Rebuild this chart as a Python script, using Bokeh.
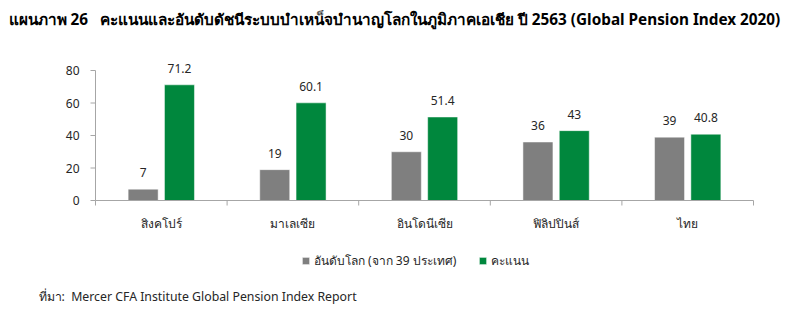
from bokeh.plotting import figure
from bokeh.models import ColumnDataSource, Legend, LegendItem, Label
from bokeh.core.properties import value
from bokeh.embed import file_html
from bokeh.resources import INLINE

categories = ["สิงคโปร์", "มาเลเซีย", "อินโดนีเซีย", "ฟิลิปปินส์", "ไทย"]
rank = [7, 19, 30, 36, 39]
score = [71.2, 60.1, 51.4, 43, 40.8]
rank_name = "อันดับโลก (จาก 39 ประเทศ)"
score_name = "คะแนน"
y_ticks = [0, 20, 40, 60, 80]
title_text = "แผนภาพ 26 \u00a0\u00a0คะแนนและอันดับดัชนีระบบบำเหน็จบำนาญโลกในภูมิภาคเอเชีย ปี 2563 (Global Pension Index 2020)"
source_text = "ที่มา: \u00a0Mercer CFA Institute Global Pension Index Report"

FONT = "Noto Sans"
GREY = "#7F7F7F"
GREEN = "#00873D"
TXT = "#262626"
AX = "#A6A6A6"

W, H = 800, 317
# plot area in pixels (frame covers the whole canvas; axes drawn by hand)
PL, PR, PT, PB = 95, 753, 70, 200
n = len(categories)
ymax = max(y_ticks)
xs = (PR - PL) / n            # px per category
ys = (PB - PT) / ymax         # px per unit
x_range = (-PL / xs, n + (W - PR) / xs)
y_range = (-(H - PB) / ys, ymax + PT / ys)

centers = [i + 0.5 for i in range(n)]
off = 0.138
bw = 0.228

src_r = ColumnDataSource(dict(x=[c - off for c in centers], y=rank, t=[str(v) for v in rank]))
src_s = ColumnDataSource(dict(x=[c + off for c in centers], y=score, t=[str(v) for v in score]))

p = figure(width=W, height=H, x_range=x_range, y_range=y_range,
           output_backend="svg", toolbar_location=None,
           x_axis_location=None, y_axis_location=None,
           min_border=0, min_border_left=0, min_border_right=0, min_border_top=0, min_border_bottom=0)
p.title = None
p.outline_line_color = None
p.grid.visible = False
p.background_fill_color = "white"
p.border_fill_color = "white"

r1 = p.vbar(x="x", top="y", width=bw, source=src_r, color=GREY, line_color="white", line_width=0.5)
r2 = p.vbar(x="x", top="y", width=bw, source=src_s, color=GREEN, line_color="white", line_width=0.5)
for s in (src_r, src_s):
    p.text(x="x", y="y", text="t", source=s, text_align="center", text_baseline="bottom",
           y_offset=-12, text_font=value(FONT), text_font_size="12px", text_color=TXT)

# y axis
tick_dx = 5 / xs
p.segment(x0=[0], y0=[0], x1=[0], y1=[ymax], line_color=AX, line_width=1)
p.segment(x0=[-tick_dx] * len(y_ticks), y0=y_ticks, x1=[0] * len(y_ticks), y1=y_ticks,
          line_color=AX, line_width=1)
p.text(x=[0] * len(y_ticks), y=y_ticks, text=[str(t) for t in y_ticks], x_offset=-16,
       text_align="right", text_baseline="middle", text_font=value(FONT),
       text_font_size="12px", text_color=TXT)

# x axis
tick_dy = 5 / ys
bounds = list(range(n + 1))
p.segment(x0=[0], y0=[0], x1=[n], y1=[0], line_color=AX, line_width=1)
p.segment(x0=bounds, y0=[0] * len(bounds), x1=bounds, y1=[-tick_dy] * len(bounds),
          line_color=AX, line_width=1)
p.text(x=centers, y=[0] * n, text=categories, y_offset=23, text_align="center",
       text_baseline="middle", text_font=value(FONT), text_font_size="12px", text_color=TXT)

legend = Legend(items=[LegendItem(label=rank_name, renderers=[r1]),
                       LegendItem(label=score_name, renderers=[r2])],
                orientation="horizontal", location=(301, 47),
                label_text_font=FONT, label_text_font_size="12px", label_text_color=TXT,
                glyph_width=9, glyph_height=9, label_standoff=4, spacing=22,
                border_line_color=None, background_fill_alpha=0, padding=0, margin=0)
p.add_layout(legend, "center")

p.add_layout(Label(x=38, y=H - 296, x_units="screen", y_units="screen", text=source_text,
                   text_font=FONT, text_font_size="12.3px", text_color=TXT,
                   text_baseline="middle", text_align="left"))
p.add_layout(Label(x=8, y=H - 18, x_units="screen", y_units="screen", text=title_text,
                   text_font=FONT, text_font_size="15.3px", text_font_style="bold",
                   text_color="black", text_baseline="middle", text_align="left"))

open("out.html", "w").write(file_html(p, INLINE))
